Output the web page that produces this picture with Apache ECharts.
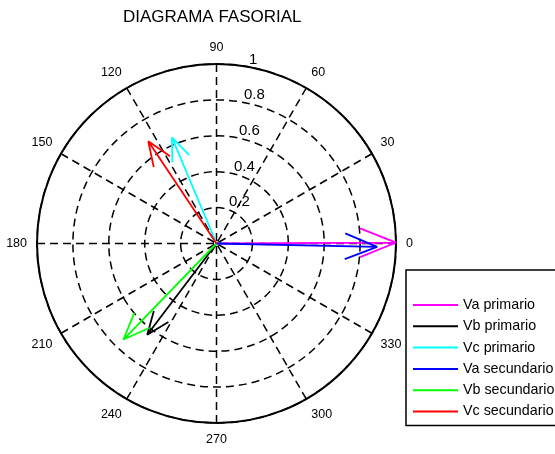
<!DOCTYPE html>
<html>
<head>
<meta charset="utf-8">
<script src="https://cdn.jsdelivr.net/npm/echarts@6/dist/echarts.min.js"></script>
<style>
html,body{margin:0;padding:0;background:#fff;}
#chart{width:555px;height:454px;}
</style>
</head>
<body>
<div id="chart"></div>
<script>
// fasores: modulo (p.u.) y angulo (grados)
var seriesNames = ['Va primario', 'Vb primario', 'Vc primario', 'Va secundario', 'Vb secundario', 'Vc secundario'];
var magnitudes = [1.0, 0.638, 0.641, 0.895, 0.745, 0.685];
var anglesDeg = [0.3, 232.8, 112.8, 358.8, 225.9, 123.7];
var colors = ['#ff00ff', '#000000', '#00ffff', '#0000ff', '#00ff00', '#ff0000'];
var radialTicks = [0.2, 0.4, 0.6, 0.8, 1];
var radialLabels = ['0.2', '0.4', '0.6', '0.8', '1'];

// punta de flecha como en compass(): 0.8*z +/- 0.08i*z
var headR = Math.sqrt(0.8 * 0.8 + 0.08 * 0.08);
var headA = Math.atan2(0.08, 0.8) * 180 / Math.PI;

function arrowData(m, a){
	return [
		[0, a],
		[m, a],
		[m * headR, a + headA],
		[m, a],
		[m * headR, a - headA]
	];
}

var series = [];
for(var i = 0; i < seriesNames.length; i++){
	series.push({
		name: seriesNames[i],
		type: 'line',
		coordinateSystem: 'polar',
		symbol: 'none',
		clip: false,
		lineStyle: {color: colors[i], width: 1.8},
		itemStyle: {color: colors[i]},
		data: arrowData(magnitudes[i], anglesDeg[i]),
		z: 5 + i
	});
}

// etiquetas radiales a 82 grados
series.push({
	type: 'scatter',
	coordinateSystem: 'polar',
	symbol: 'circle',
	symbolSize: 1,
	itemStyle: {color: 'rgba(0,0,0,0)', opacity: 1},
	silent: true,
	clip: false,
	z: 4,
	label: {
		show: true,
		position: 'right',
		distance: 0,
		offset: [7, -6],
		color: '#000',
		opacity: 1,
		fontSize: 15,
		fontFamily: 'Liberation Sans, Arial, sans-serif',
		formatter: function(p){ return radialLabels[p.dataIndex]; }
	},
	data: radialTicks.map(function(r){ return [r, 82]; })
});

var chart = echarts.init(document.getElementById('chart'));
chart.setOption({
	animation: false,
	backgroundColor: '#fff',
	title: {
		text: 'DIAGRAMA FASORIAL',
		left: 123,
		top: 9,
		padding: 0,
		textStyle: {
			color: '#000',
			fontSize: 17,
			fontWeight: 'normal',
			fontFamily: 'Liberation Sans, Arial, sans-serif'
		}
	},
	legend: {
		orient: 'vertical',
		left: 406,
		top: 270,
		padding: [27, 24, 6, 7],
		itemWidth: 45,
		itemHeight: 2,
		itemGap: 5.3,
		icon: 'rect',
		selectedMode: false,
		borderColor: '#000',
		borderWidth: 1.5,
		backgroundColor: '#fff',
		textStyle: {
			color: '#000',
			fontSize: 14.3,
			lineHeight: 16,
			fontFamily: 'Liberation Sans, Arial, sans-serif'
		},
		data: seriesNames
	},
	polar: {
		center: [216.5, 243.5],
		radius: 179.5
	},
	angleAxis: {
		type: 'value',
		min: 0,
		max: 360,
		interval: 30,
		startAngle: 0,
		clockwise: false,
		axisLine: {show: true, lineStyle: {color: '#000', width: 2}},
		axisTick: {show: false},
		axisLabel: {
			margin: 10,
			color: '#000',
			fontSize: 12.5,
			fontFamily: 'Liberation Sans, Arial, sans-serif',
			formatter: function(v){ return v >= 360 ? '' : String(v); }
		},
		splitLine: {show: true, lineStyle: {color: '#000', width: 1.5, type: [8, 5]}}
	},
	radiusAxis: {
		type: 'value',
		min: 0,
		max: 1,
		interval: 0.2,
		axisLine: {show: false},
		axisTick: {show: false},
		axisLabel: {show: false},
		splitLine: {show: true, lineStyle: {color: '#000', width: 1.5, type: [8, 5]}}
	},
	series: series
});
</script>
</body>
</html>
